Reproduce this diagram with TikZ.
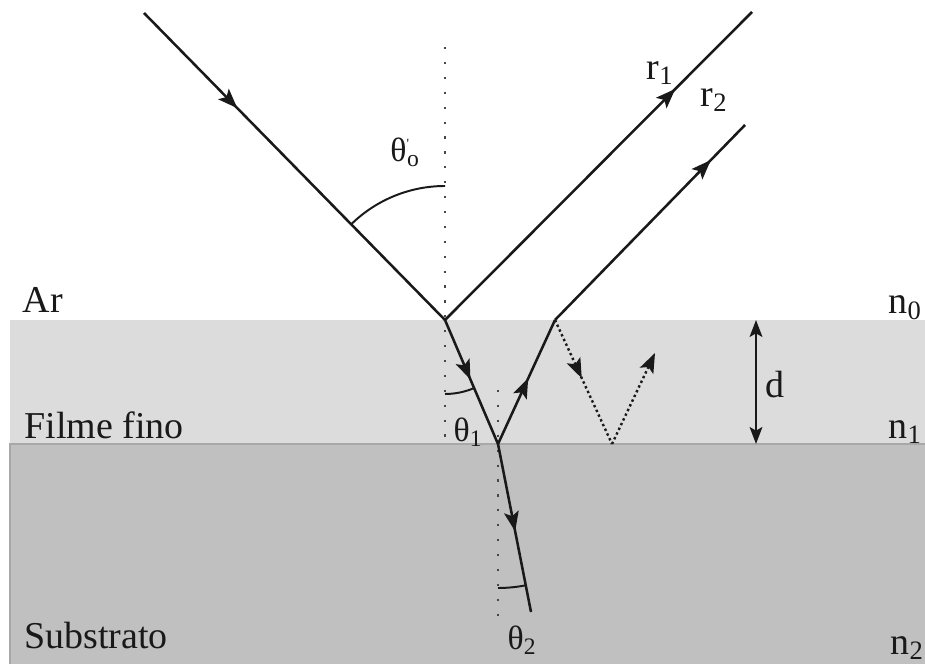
\documentclass[tikz,border=0pt]{standalone}
\usepackage{fontspec}
\setmainfont{Liberation Serif}
\newfontfamily\labelfont{Liberation Serif}
\definecolor{filmGray}{RGB}{220, 220, 220}
\definecolor{subGray}{RGB}{192, 192, 192}
\definecolor{edgeGray}{RGB}{168, 168, 168}
\definecolor{inkGray}{RGB}{25, 25, 25}
\usetikzlibrary{positioning, calc, arrows.meta, decorations.markings}

\begin{document}
\begin{tikzpicture}[
    ray/.style={line width=1.8pt, inkGray},
    midarrow/.style={postaction={decorate, decoration={markings,
        mark=at position #1 with {\arrow{Stealth[length=14pt, width=10.5pt, inset=3pt]}}}}},
    normal/.style={inkGray!80, line width=1.6pt, dash pattern=on 1.6pt off 9pt},
    dotray/.style={inkGray, line width=1.7pt, dotted},
    anglearc/.style={inkGray, line width=1.4pt},
    lbl/.style={font=\labelfont\fontsize{27}{30}\selectfont, text=inkGray, inner sep=0pt},
    theta/.style={font=\labelfont\fontsize{24}{28}\selectfont, text=inkGray, inner sep=0pt},
  ]
    \useasboundingbox (0,0) rectangle (23.125,16.6);

    % Layers
    \fill[filmGray] (0.25,5.5) rectangle (23.125,8.6);
    \fill[subGray] (0.25,0) rectangle (23.125,5.5);
    \draw[edgeGray, line width=0.9pt] (0.25,0) -- (0.25,5.5) -- (23.125,5.5);

    % Points on the rays
    \coordinate (S) at (3.6,16.275);
    \coordinate (A) at (11.125,8.6);
    \coordinate (R1) at (18.8,16.3);
    \coordinate (B) at (12.45,5.5);
    \coordinate (C) at (13.875,8.6);
    \coordinate (R2) at (18.625,13.475);
    \coordinate (D) at (13.275,1.3);
    \coordinate (E) at (15.3,5.5);
    \coordinate (F) at (16.375,7.775);

    % Normals
    \coordinate (N1t) at (11.125,15.425);
    \coordinate (N1b) at (11.125,5.6);
    \coordinate (N2t) at (12.45,6.85);
    \coordinate (N2b) at (12.45,1.2);
    \draw[normal] (N1t) -- (N1b);
    \draw[normal] (N2t) -- (N2b);

    % Rays
    \draw[ray, midarrow=0.31] (S) -- (A);
    \draw[ray, midarrow=0.75] (A) -- (R1);
    \draw[ray, midarrow=0.48] (A) -- (B);
    \draw[ray, midarrow=0.53] (B) -- (C);
    \draw[ray, midarrow=0.82] (C) -- (R2);
    \draw[ray, midarrow=0.52] (B) -- (D);

    % Multiple reflection
    \draw[dotray, midarrow=0.47] (C) -- (E);
    \draw[dotray, -{Stealth[length=14pt, width=10.5pt, inset=3pt]}] (E) -- (F);

    % Angles
    \draw[anglearc] ($(A)+(0,3.35)$) arc[start angle=90, end angle=134, radius=3.35];
    \draw[anglearc] ($(A)+(0,-1.85)$) arc[start angle=-90, end angle=-67, radius=1.85];
    \draw[anglearc] ($(B)+(0,-3.6)$) arc[start angle=-90, end angle=-79, radius=3.6];

    % Thickness
    \coordinate (Dt) at (18.9,8.6);
    \coordinate (Db) at (18.9,5.5);
    \draw[ray, {Stealth[length=12pt, width=9pt, inset=2.5pt]}-{Stealth[length=12pt, width=9pt, inset=2.5pt]}] (Dt) -- (Db);

    % Labels
    \node[lbl] (ar) at (1.075,9.1) {Ar};
    \node[lbl] (filme) at (2.6,5.975) {Filme fino};
    \node[lbl] (substrato) at (2.4,0.7) {Substrato};
    \node[lbl] (n0) at (22.625,8.9) {n\textsubscript{0}};
    \node[lbl] (n1) at (22.625,5.8) {n\textsubscript{1}};
    \node[lbl] (n2) at (22.675,0.4) {n\textsubscript{2}};
    \node[lbl] (dlab) at (19.375,6.975) {d};
    \node[lbl] (r1lab) at (16.5,14.775) {r\textsubscript{1}};
    \node[lbl] (r2lab) at (17.85,14.1) {r\textsubscript{2}};
    \node[theta] (th0) at (10.125,12.8) {θ\textsuperscript{\fontsize{10}{10}\selectfont '}\kern-2pt\textsubscript{o}};
    \node[theta] (th1) at (11.7,5.8) {θ\textsubscript{1}};
    \node[theta] (th2) at (13.05,0.6) {θ\textsubscript{2}};
  \end{tikzpicture}
\end{document}
